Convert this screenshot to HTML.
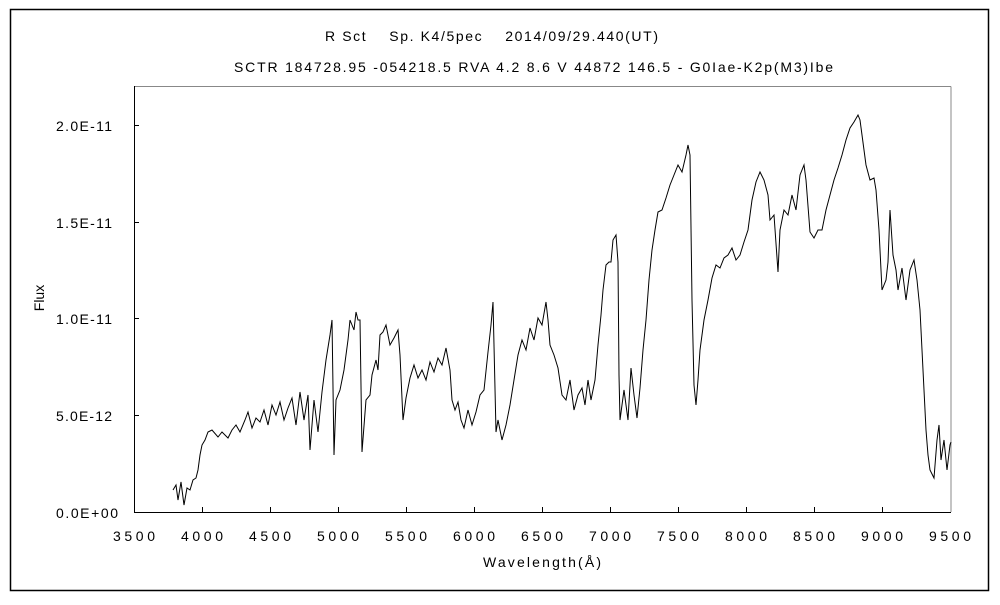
<!DOCTYPE html>
<html><head><meta charset="utf-8"><style>
body{margin:0;background:#fff;width:1000px;height:600px;overflow:hidden}
text{font-family:"Liberation Sans","Noto Sans CJK JP",sans-serif;font-size:14px;fill:#000}
</style></head><body>
<svg width="1000" height="600" xmlns="http://www.w3.org/2000/svg">
<rect x="10.5" y="9.5" width="978" height="581" fill="none" stroke="#000" stroke-width="1.5"/>
<text x="325" y="41" textLength="333" lengthAdjust="spacing" xml:space="preserve">R Sct    Sp. K4/5pec    2014/09/29.440(UT)</text>
<text x="234" y="72" textLength="599" lengthAdjust="spacing">SCTR 184728.95 -054218.5 RVA 4.2  8.6  V 44872  146.5 - G0Iae-K2p(M3)Ibe</text>
<line x1="134.5" y1="86.5" x2="951" y2="86.5" stroke="#888"/>
<line x1="951" y1="86.5" x2="951" y2="512" stroke="#888"/>
<line x1="134.5" y1="86" x2="134.5" y2="512.5" stroke="#000"/>
<line x1="134" y1="512.5" x2="951" y2="512.5" stroke="#000"/>
<g stroke="#000">
<line x1="202.5" y1="512" x2="202.5" y2="507"/><line x1="270.5" y1="512" x2="270.5" y2="507"/>
<line x1="338.5" y1="512" x2="338.5" y2="507"/><line x1="406.5" y1="512" x2="406.5" y2="507"/>
<line x1="474.5" y1="512" x2="474.5" y2="507"/><line x1="542.5" y1="512" x2="542.5" y2="507"/>
<line x1="610.5" y1="512" x2="610.5" y2="507"/><line x1="678.5" y1="512" x2="678.5" y2="507"/>
<line x1="746.5" y1="512" x2="746.5" y2="507"/><line x1="814.5" y1="512" x2="814.5" y2="507"/>
<line x1="882.5" y1="512" x2="882.5" y2="507"/>
<line x1="134" y1="125.5" x2="139" y2="125.5"/><line x1="134" y1="222.5" x2="139" y2="222.5"/>
<line x1="134" y1="318.5" x2="139" y2="318.5"/><line x1="134" y1="415.5" x2="139" y2="415.5"/>
</g>
<g>
<text x="56" y="131" textLength="56" lengthAdjust="spacing">2.0E-11</text>
<text x="56" y="228" textLength="56" lengthAdjust="spacing">1.5E-11</text>
<text x="56" y="324" textLength="56" lengthAdjust="spacing">1.0E-11</text>
<text x="56" y="421" textLength="56" lengthAdjust="spacing">5.0E-12</text>
<text x="56" y="518" textLength="62" lengthAdjust="spacing">0.0E+00</text>
</g>
<g>
<text x="113" y="541" textLength="42" lengthAdjust="spacing">3500</text>
<text x="181" y="541" textLength="42" lengthAdjust="spacing">4000</text>
<text x="249" y="541" textLength="42" lengthAdjust="spacing">4500</text>
<text x="317" y="541" textLength="42" lengthAdjust="spacing">5000</text>
<text x="385" y="541" textLength="42" lengthAdjust="spacing">5500</text>
<text x="453" y="541" textLength="42" lengthAdjust="spacing">6000</text>
<text x="521" y="541" textLength="42" lengthAdjust="spacing">6500</text>
<text x="589" y="541" textLength="42" lengthAdjust="spacing">7000</text>
<text x="657" y="541" textLength="42" lengthAdjust="spacing">7500</text>
<text x="725" y="541" textLength="42" lengthAdjust="spacing">8000</text>
<text x="793" y="541" textLength="42" lengthAdjust="spacing">8500</text>
<text x="861" y="541" textLength="42" lengthAdjust="spacing">9000</text>
<text x="929" y="541" textLength="42" lengthAdjust="spacing">9500</text>
<text x="483" y="567" textLength="118" lengthAdjust="spacing">Wavelength(Å)</text>
</g>
<text x="44" y="298" text-anchor="middle" transform="rotate(-90 44 298)">Flux</text>
<polyline fill="none" stroke="#000" stroke-width="1" points="173,490 176,485 178,500 181,482 184,505 187,488 190,490 193,480 196,478 198,470 200,455 202,445 205,440 208,432 212,430 218,437 222,432 228,438 232,430 236,425 240,432 245,420 248,412 252,428 256,418 260,422 264,410 268,425 272,405 276,415 280,402 284,420 288,408 292,398 296,425 300,392 304,420 308,395 310,450 314,400 318,432 322,392 326,360 330,335 332,320 334,455 336,400 340,390 344,370 348,340 350,320 354,330 356,312 358,320 360,320 362,452 366,400 370,395 372,375 376,360 378,370 380,335 383,332 386,325 390,345 394,338 398,330 400,355 403,420 406,398 410,378 414,365 418,378 422,370 426,380 430,362 434,372 438,358 442,365 446,348 450,370 452,400 455,410 458,402 461,420 464,428 468,410 472,425 476,412 480,395 484,390 488,352 491,325 493,302 496,432 498,420 502,440 506,425 510,405 514,380 518,355 522,340 526,350 530,328 534,340 538,318 542,325 546,302 548,320 550,345 554,355 558,368 562,395 566,400 570,380 574,410 578,395 582,388 585,405 588,380 591,400 595,380 598,345 601,315 603,290 606,265 609,262 611,262 613,240 616,235 618,262 619,375 620,420 624,390 628,420 631,368 634,395 637,418 640,388 643,350 646,320 649,280 652,250 655,230 658,212 662,210 666,198 670,185 674,175 678,165 682,172 686,155 688,145 690,155 692,300 694,385 696,405 698,380 700,350 704,320 708,300 712,278 716,265 720,268 724,258 728,255 732,248 736,260 740,255 744,242 748,230 752,200 756,182 760,172 764,180 768,195 770,220 774,215 778,272 780,230 784,210 788,215 792,195 796,210 800,175 804,165 806,180 810,232 814,238 818,230 822,230 826,210 830,195 834,180 838,168 842,155 846,140 850,128 854,122 858,115 860,120 862,135 866,165 870,180 874,178 876,190 879,230 882,290 886,280 888,262 890,210 893,255 896,270 898,290 902,268 906,300 910,270 914,260 917,280 920,310 922,350 924,390 926,430 928,455 930,470 934,478 937,440 939,425 941,460 944,440 947,470 950,445 951,442"/>
</svg>
</body></html>
